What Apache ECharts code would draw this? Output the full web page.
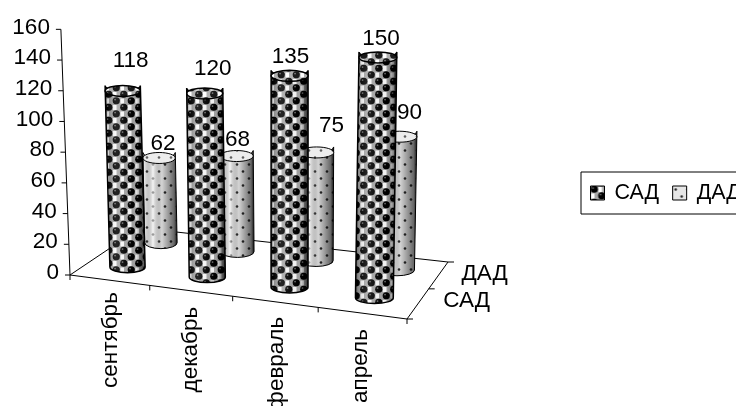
<!DOCTYPE html>
<html>
<head>
<meta charset="utf-8">
<style>html,body{margin:0;padding:0;background:#fff;overflow:hidden}#c{width:736px;height:406px}</style>
<script src="https://cdn.jsdelivr.net/npm/echarts@6/dist/echarts.min.js"></script>
</head>
<body>
<div id="c"></div>
<script>
// ---- data ----
const months = ['сентябрь', 'декабрь', 'февраль', 'апрель'];
const seriesNames = ['САД', 'ДАД'];
const sadValues = [118, 120, 135, 150];
const dadValues = [62, 68, 75, 90];
const valueTicks = [0, 20, 40, 60, 80, 100, 120, 140, 160];

// ---- layout ----
const FONT = '"Liberation Sans", Arial, sans-serif';
const FS = 22.5;
const GRID = { left: 70, top: 28, width: 337, height: 247 };
const GRID_BOTTOM = GRID.top + GRID.height;
const FL = [70, 275], FR = [407, 319], BR = [448, 262], BL = [140, 228];
const labelNudge = {
  'САД': [[8, -30], [8, -25], [1, -19], [3, -19]],
  'ДАД': [[4, -14], [1, -16], [15, -27], [10, -24]]
};
const monthNudge = [[1, 12], [0, 16], [2, 15], [-1, 16]];
const depthLabelNudge = [[25, -3], [23, -1]];

// homography: unit floor square -> picture quad
const dx1 = FR[0] - BR[0], dx2 = BL[0] - BR[0], sx = FL[0] - FR[0] + BR[0] - BL[0];
const dy1 = FR[1] - BR[1], dy2 = BL[1] - BR[1], sy = FL[1] - FR[1] + BR[1] - BL[1];
const den = dx1 * dy2 - dx2 * dy1;
const hg = (sx * dy2 - dx2 * sy) / den, hh = (dx1 * sy - sx * dy1) / den;
const ha = FR[0] - FL[0] + hg * FR[0], hb = BL[0] - FL[0] + hh * BL[0];
const hd = FR[1] - FL[1] + hg * FR[1], he = BL[1] - FL[1] + hh * BL[1];
function floorPt(u0, s) {
  const u = u0 + 0.012 * Math.sin(Math.PI * u0);
  const w = hg * u + hh * s + 1;
  return [(ha * u + hb * s + FL[0]) / w, (hd * u + he * s + FL[1]) / w];
}
function scaleAt(u, s) { return (1.49 + 0.147 * (u - 0.125) - 0.24 * (s - 0.25)) / 1.54; }
function project(api, u, s, v) {
  const hpx = GRID_BOTTOM - api.coord([0, v])[1];
  const b = floorPt(u, s);
  const h = hpx * scaleAt(u, s);
  return [b[0] + h * (b[0] - 288) * 0.00017, b[1] - h];
}

// ---- fills ----
function darkTile() {
  const c = document.createElement('canvas'); c.width = 15; c.height = 13;
  const x = c.getContext('2d');
  x.fillStyle = '#a8a8a8'; x.fillRect(0, 0, 15, 13);
  x.fillStyle = '#fff'; x.fillRect(8, 1, 3.5, 5); x.fillRect(0.5, 7.5, 3.5, 5);
  [[3.75, 3.25], [11.25, 9.75]].forEach(p => {
    [[0, 0], [15, 0], [0, 13], [-15, 0], [0, -13]].forEach(o => {
      const cx = p[0] + o[0], cy = p[1] + o[1];
      x.fillStyle = '#000'; x.beginPath(); x.arc(cx, cy, 3.6, 0, 7); x.fill();
      x.fillStyle = '#707070'; x.beginPath(); x.arc(cx - 1.2, cy - 1.2, 0.9, 0, 7); x.fill();
    });
  });
  return c;
}
function lightTile() {
  const c = document.createElement('canvas'); c.width = 12; c.height = 14;
  const x = c.getContext('2d');
  x.fillStyle = '#e6e6e6'; x.fillRect(0, 0, 12, 14);
  x.fillStyle = '#2a2a2a';
  [[3, 3.5], [9, 10.5]].forEach(p => { x.beginPath(); x.arc(p[0], p[1], 1.3, 0, 7); x.fill(); });
  return c;
}
const fills = { 'САД': { image: darkTile(), repeat: 'repeat' }, 'ДАД': { image: lightTile(), repeat: 'repeat' } };
const shades = {
  'САД': [[0, 'rgba(0,0,0,.95)'], [.07, 'rgba(0,0,0,.2)'], [.3, 'rgba(255,255,255,.15)'], [.75, 'rgba(0,0,0,.05)'], [.93, 'rgba(0,0,0,.55)'], [1, 'rgba(0,0,0,.95)']],
  'ДАД': [[0, 'rgba(0,0,0,.7)'], [.06, 'rgba(0,0,0,0)'], [.3, 'rgba(255,255,255,.6)'], [.55, 'rgba(0,0,0,.08)'], [.9, 'rgba(0,0,0,.55)'], [1, 'rgba(0,0,0,.95)']]
};

function cylinder(name, depthIndex) {
  return function (params, api) {
    const i = api.value(0), v = api.value(1);
    const u = (api.coord([i, 0])[0] - GRID.left) / GRID.width;
    const s = (depthIndex + 0.5) / seriesNames.length;
    const b = project(api, u, s, 0), t = project(api, u, s, v);
    const rx = 18.2 * scaleAt(u, s), ry = 5.5;
    const d = `M${t[0] - rx} ${t[1]} L${b[0] - rx} ${b[1]} A${rx} ${ry} 0 0 0 ${b[0] + rx} ${b[1]} L${t[0] + rx} ${t[1]} A${rx} ${ry} 0 0 1 ${t[0] - rx} ${t[1]} Z`;
    const lw = depthIndex === 0 ? 1.5 : 1;
    const left = Math.min(t[0], b[0]) - rx, w = Math.abs(t[0] - b[0]) + 2 * rx;
    const top = t[1], hh2 = b[1] + ry - t[1];
    const n = labelNudge[name][i];
    return {
      type: 'group',
      children: [
        { type: 'path', shape: { pathData: d, x: left, y: top - ry, width: w, height: hh2 + ry, layout: 'cover' }, style: { fill: fills[name], stroke: 'none' } },
        { type: 'path', shape: { pathData: d, x: left, y: top - ry, width: w, height: hh2 + ry, layout: 'cover' },
          style: { stroke: '#000', lineWidth: lw, fill: new echarts.graphic.LinearGradient(0, 0, 1, 0, shades[name].map(a => ({ offset: a[0], color: a[1] }))) } },
        { type: 'ellipse', shape: { cx: t[0], cy: t[1], rx: rx, ry: ry }, style: { fill: fills[name], stroke: 'none' } },
        { type: 'ellipse', shape: { cx: t[0], cy: t[1], rx: rx, ry: ry }, style: { fill: depthIndex === 0 ? 'rgba(255,255,255,.1)' : 'rgba(255,255,255,.25)', stroke: '#000', lineWidth: lw } },
        { type: 'text', z2: 50, x: t[0] + n[0], y: t[1] + n[1], style: { text: String(v), font: FS + 'px ' + FONT, fill: '#000', align: 'center', verticalAlign: 'middle' } }
      ]
    };
  };
}

function line(a, b) {
  return { type: 'line', shape: { x1: a[0], y1: a[1], x2: b[0], y2: b[1] }, style: { stroke: '#000', lineWidth: 1 } };
}
function text(str, x, y, align, vAlign, rot) {
  return { type: 'text', x: x, y: y, rotation: rot || 0, style: { text: str, font: FS + 'px ' + FONT, fill: '#000', align: align, verticalAlign: vAlign } };
}
function frame(params, api) {
  const ch = [];
  ch.push(line(FL, FR), line(FR, BR), line(BR, BL), line(BL, FL));
  const y0 = project(api, 0, 0, 0), yTop = project(api, 0, 0, valueTicks[valueTicks.length - 1]);
  ch.push(line(y0, yTop));
  valueTicks.forEach(v => {
    const p = project(api, 0, 0, v);
    ch.push(line(p, [p[0] - 5, p[1]]));
    ch.push(text(String(v), p[0] - 11, p[1] - 2, 'right', 'middle'));
  });
  months.forEach((m, i) => {
    const a = floorPt(i / months.length, 0);
    ch.push(line(a, [a[0], a[1] + 5]));
    const c = floorPt((api.coord([i, 0])[0] - GRID.left) / GRID.width, 0);
    ch.push(text(m, c[0] + monthNudge[i][0], c[1] + monthNudge[i][1], 'right', 'middle', Math.PI / 2));
  });
  ch.push(line(FR, [FR[0], FR[1] + 5]));
  seriesNames.forEach((n, j) => {
    const e = floorPt(1, j / seriesNames.length);
    ch.push(line(e, [e[0] + 6, e[1]]));
    const c = floorPt(1, (j + 0.5) / seriesNames.length);
    ch.push(text(n, c[0] + depthLabelNudge[j][0], c[1] + depthLabelNudge[j][1], 'left', 'middle'));
  });
  ch.push(line(BR, [BR[0] + 6, BR[1]]));
  return { type: 'group', children: ch };
}

const chart = echarts.init(document.getElementById('c'), null, { renderer: 'canvas', width: 736, height: 406 });
chart.setOption({
  animation: false,
  backgroundColor: '#fff',
  grid: { left: GRID.left, top: GRID.top, width: GRID.width, height: GRID.height },
  xAxis: { type: 'category', data: months, show: false },
  yAxis: { type: 'value', min: 0, max: 160, interval: 20, show: false },
  legend: {
    left: 581, top: 172, width: 300, orient: 'horizontal',
    padding: [10, 12, 10, 9], itemGap: 13, itemWidth: 14, itemHeight: 14,
    borderColor: '#000', borderWidth: 1, backgroundColor: '#fff',
    textStyle: { fontFamily: FONT, fontSize: 21.5, color: '#000', padding: [0, 0, 0, 5] },
    data: seriesNames.map(n => ({ name: n, icon: 'rect', itemStyle: { color: fills[n], borderColor: '#000', borderWidth: 1 } }))
  },
  series: [
    { type: 'custom', name: 'frame', silent: true, renderItem: frame, data: [[0, 0]], z: 1 },
    { type: 'custom', name: 'ДАД', renderItem: cylinder('ДАД', 1), data: dadValues.map((v, i) => [i, v]), itemStyle: { color: '#e6e6e6' }, z: 2 },
    { type: 'custom', name: 'САД', renderItem: cylinder('САД', 0), data: sadValues.map((v, i) => [i, v]), itemStyle: { color: '#333' }, z: 3 }
  ]
});
</script>
</body>
</html>
